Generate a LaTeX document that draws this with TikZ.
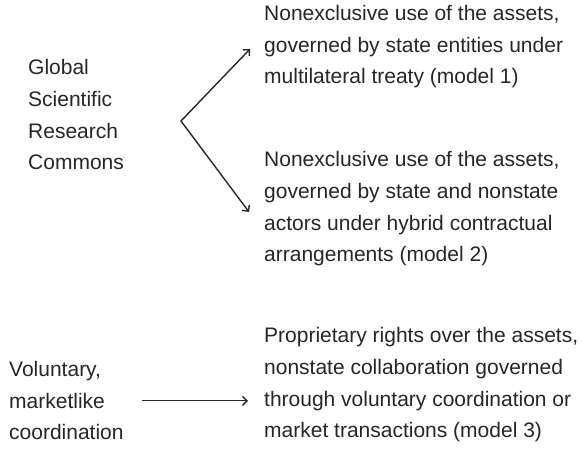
\documentclass[tikz,border=0pt]{standalone}
\usepackage{fontspec}
\setmainfont{Liberation Sans}
\usetikzlibrary{positioning,arrows.meta}

\begin{document}
\begin{tikzpicture}[>={Straight Barb[length=4.5pt,width=9pt]},x=1pt,y=-1pt,
    txt/.style={anchor=base west,align=left,inner sep=0pt,text=black!85,
      font=\fontsize{21}{31.7}\selectfont},
    link/.style={line width=1.4pt,black!85}]
    \useasboundingbox (0,0) rectangle (582,462);
    % left column
    \node[txt] (commons) at (28,170) {Global\\Scientific\\Research\\Commons};
    \node[txt] (market) at (9,440) {Voluntary,\\marketlike\\coordination};
    % right column
    \node[txt] (model1) at (264,84) {Nonexclusive use of the assets,\\governed by state entities under\\multilateral treaty (model 1)};
    \node[txt] (model2) at (264,262) {Nonexclusive use of the assets,\\governed by state and nonstate\\actors under hybrid contractual\\arrangements (model 2)};
    \node[txt] (model3) at (264,438) {Proprietary rights over the assets,\\nonstate collaboration governed\\through voluntary coordination or\\market transactions (model 3)};
    % arrows
    \coordinate (fork) at (181,121);
    \coordinate (up) at (250,49);
    \coordinate (down) at (249,212);
    \draw[link,<->] (up) -- (fork) -- (down);
    \draw[link,->,shorten <=18pt,shorten >=16pt] (market.east) -- (market.east -| model3.west);
\end{tikzpicture}
\end{document}
